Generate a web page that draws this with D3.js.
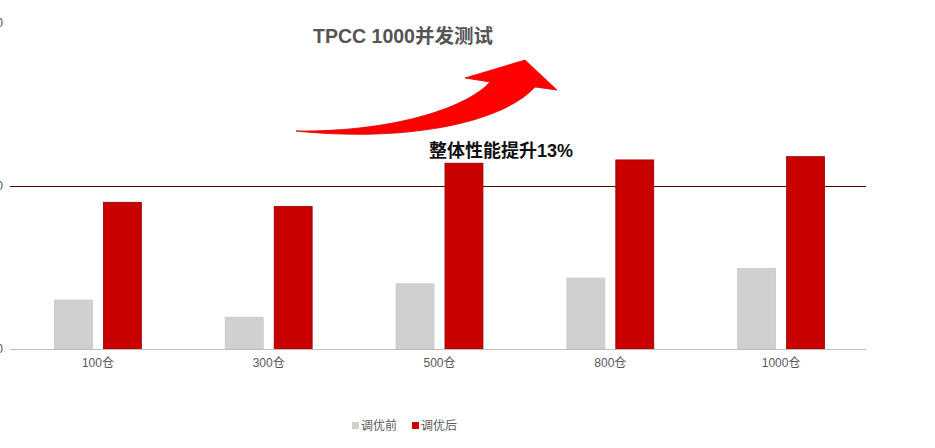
<!DOCTYPE html>
<html><head><meta charset="utf-8">
<script src="https://cdn.jsdelivr.net/npm/d3@7"></script>
<style>html,body{margin:0;padding:0;background:#fff;}svg{display:block;font-family:"Liberation Sans","Noto Sans CJK SC",sans-serif;}</style>
</head><body>
<svg id="c" width="935" height="448"></svg>
<script>
const categories = ["100仓","300仓","500仓","800仓","1000仓"];
const seriesNames = ["调优前","调优后"];
const before = [3000, 1950, 4000, 4350, 4950];
const after = [9000, 8750, 11400, 11600, 11800];
const yTicks = [0, 10000, 20000];
const title = "TPCC 1000并发测试";
const note = "整体性能提升13%";

const svg = d3.select("#c");
const colors = ["#d0d0d0", "#c80000"];
const strokes = ["#c8c8c8", "#9a0000"];

const x0 = d3.scaleBand().domain(categories).range([12.5, 866.5]).paddingInner(0).paddingOuter(0);
const x1 = d3.scaleBand().domain(seriesNames).range([0, x0.bandwidth()]).paddingInner(0.224).paddingOuter(0.857);
const y = d3.scaleLinear().domain([0, 20000]).range([349, 23]);

// gridline (dark red) at middle tick
svg.append("line").attr("x1", 10).attr("x2", 866).attr("y1", y(10000) + 0.5).attr("y2", y(10000) + 0.5)
  .attr("stroke", "#5a0000").attr("stroke-width", 1);

// y tick labels (mostly clipped off left edge, as in the source)
svg.selectAll("text.yt").data(yTicks).join("text").attr("class","yt")
  .attr("x", 3).attr("y", d => y(d) + 4).attr("text-anchor","end")
  .attr("font-size", 12).attr("fill", "#555").text(d => d);

const data = categories.map((c, i) => ({c, vals: [before[i], after[i]]}));
const g = svg.selectAll("g.grp").data(data).join("g").attr("class","grp")
  .attr("transform", d => `translate(${x0(d.c)},0)`);
g.selectAll("rect").data(d => d.vals.map((v, j) => ({v, j}))).join("rect")
  .attr("x", d => x1(seriesNames[d.j]))
  .attr("width", x1.bandwidth())
  .attr("y", d => y(d.v))
  .attr("height", d => y(0) - y(d.v))
  .attr("fill", d => colors[d.j])
  .attr("stroke", d => strokes[d.j]).attr("stroke-width", 0.8);

// baseline
svg.append("line").attr("x1", 10).attr("x2", 866).attr("y1", y(0) + 0.5).attr("y2", y(0) + 0.5)
  .attr("stroke", "#bfbfbf").attr("stroke-width", 1);

// x labels
svg.selectAll("text.xl").data(categories).join("text").attr("class","xl")
  .attr("x", d => x0(d) + x0.bandwidth()/2).attr("y", 367)
  .attr("text-anchor","middle").attr("font-size", 12).attr("fill", "#595959").text(d => d);

// arrow
svg.append("path")
  .attr("d", "M296,131 C400,132 470,105 490,82 L465,78 L525,60 L557,90 L535,87 C500,125 400,142 296,131 Z")
  .attr("fill", "#ff0000").attr("stroke", "#e00000").attr("stroke-width", 0.8);

// title
svg.append("text").attr("x", 403).attr("y", 43).attr("text-anchor","middle")
  .attr("font-size", 19.5).attr("font-weight", "bold").attr("fill", "#555").text(title);

// note
svg.append("text").attr("x", 501).attr("y", 157).attr("text-anchor","middle")
  .attr("font-size", 18).attr("font-weight", "bold").attr("fill", "#111").text(note);

// legend
const lg = svg.append("g");
const legendX = [352, 412];
seriesNames.forEach((n, i) => {
  lg.append("rect").attr("x", legendX[i]).attr("y", 422).attr("width", 7).attr("height", 7).attr("fill", colors[i]);
  lg.append("text").attr("x", legendX[i] + 9).attr("y", 430).attr("font-size", 12).attr("fill", "#595959").text(n);
});
</script>
</body></html>
